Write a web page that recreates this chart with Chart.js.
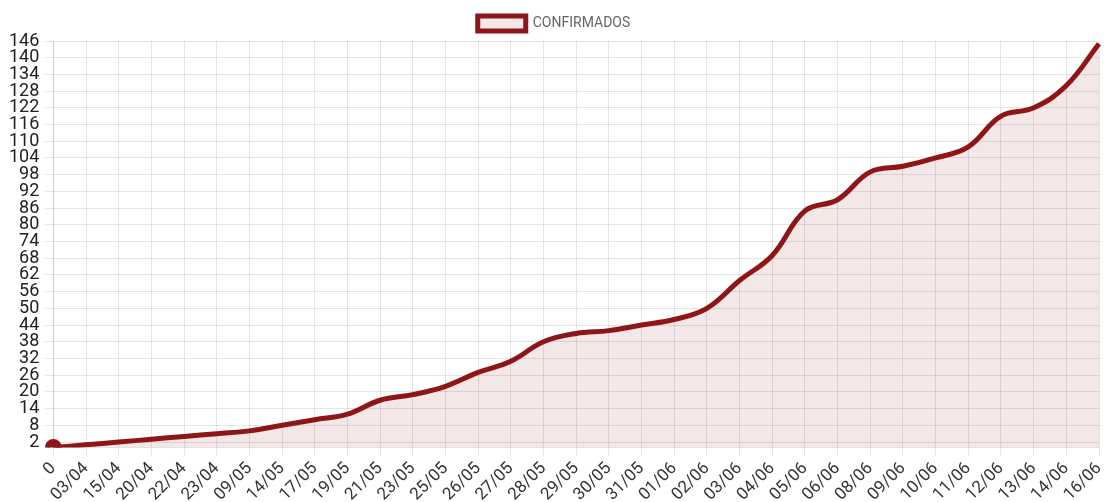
<!DOCTYPE html>
<html>
<head>
<meta charset="utf-8">
<script src="https://cdn.jsdelivr.net/npm/chart.js@4/dist/chart.umd.min.js"></script>
<style>
  html, body { margin: 0; padding: 0; background: #fff; }
  #wrap { width: 1110px; height: 502px; }
</style>
</head>
<body>
<div id="wrap"><canvas id="casosChart"></canvas></div>
<script>
// Datas (eixo x)
const labels = ['0', '03/04', '15/04', '20/04', '22/04', '23/04', '09/05', '14/05', '17/05', '19/05',
    '21/05', '23/05', '25/05', '26/05', '27/05', '28/05', '29/05', '30/05', '31/05', '01/06',
    '02/06', '03/06', '04/06', '05/06', '06/06', '08/06', '09/06', '10/06', '11/06', '12/06',
    '13/06', '14/06', '16/06'];

// Casos confirmados acumulados
const confirmados = [0, 1, 2, 3, 4, 5, 6, 8, 10, 12,
    17, 19, 22, 27, 31, 38, 41, 42, 44, 46,
    50, 60, 69, 85, 89, 99, 101, 104, 108, 119,
    122, 130, 145];

// Marcas do eixo y
const yTicks = [2, 8, 14, 20, 26, 32, 38, 44, 50, 56, 62, 68, 74, 80, 86, 92, 98,
    104, 110, 116, 122, 128, 134, 140, 146];

Chart.defaults.font.family = 'Roboto, "Noto Sans", sans-serif';

new Chart(document.getElementById('casosChart').getContext('2d'), {
    type: 'line',
    data: {
        labels: labels,
        datasets: [{
            label: 'CONFIRMADOS',
            data: confirmados,
            borderColor: '#8e1616',
            backgroundColor: 'rgba(142, 22, 22, 0.1)',
            borderWidth: 5,
            fill: true,
            tension: 0.4,
            pointRadius: ctx => ctx.dataIndex === 0 ? 6 : 0,
            pointBackgroundColor: '#8e1616',
            pointBorderColor: '#8e1616'
        }]
    },
    options: {
        responsive: true,
        maintainAspectRatio: false,
        animation: false,
        layout: { padding: { top: 6, right: 5, left: 3, bottom: -6 } },
        plugins: {
            legend: {
                labels: { boxWidth: 48, boxHeight: 15, color: '#666', font: { size: 14 }, padding: 10 }
            },
            tooltip: { enabled: false }
        },
        scales: {
            x: {
                grid: { color: 'rgba(0,0,0,0.1)' },
                afterFit: axis => { axis.paddingRight = 0; },
                ticks: { color: '#333', font: { size: 17 }, minRotation: 45, maxRotation: 45, autoSkip: false }
            },
            y: {
                min: 0,
                max: 146,
                grid: { color: 'rgba(0,0,0,0.1)' },
                afterBuildTicks: axis => { axis.ticks = yTicks.map(v => ({ value: v })); },
                ticks: { color: '#222', font: { size: 18 }, padding: 6, autoSkip: false }
            }
        }
    }
});
</script>
</body>
</html>
